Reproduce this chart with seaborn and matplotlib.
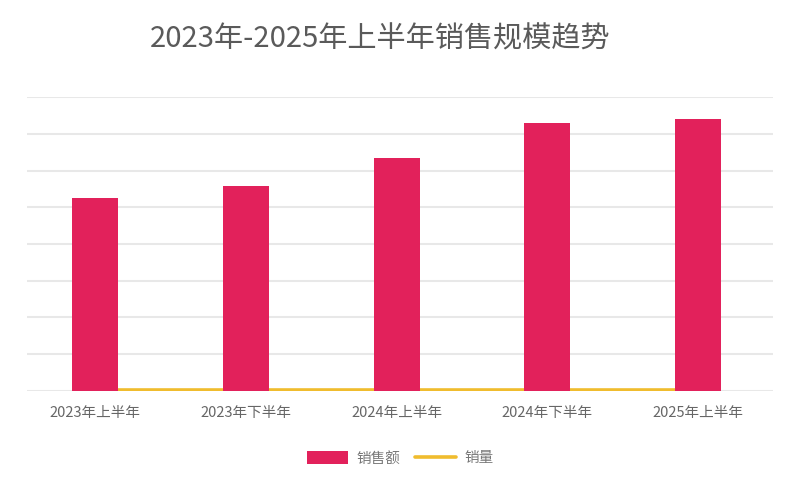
import matplotlib.pyplot as plt
import seaborn as sns
import pandas as pd

# half-year periods and values (gridline step = 100)
periods = ["2023年上半年", "2023年下半年", "2024年上半年", "2024年下半年", "2025年上半年"]
sales_amount = [525, 558, 634, 729, 740]   # 销售额
sales_volume = [3, 3, 3, 3, 3]             # 销量

df = pd.DataFrame({"period": periods, "amount": sales_amount, "volume": sales_volume})

sns.set_theme(style="white")
plt.rcParams["font.family"] = ["Noto Sans CJK SC", "DejaVu Sans"]

bar_color = "#E2215B"
line_color = "#F0BC2E"

fig = plt.figure(figsize=(7.99, 4.88), dpi=100)
ax = fig.add_axes([0.034, 0.199, 0.934, 0.602])

# line sits behind the bars
sns.lineplot(data=df, x="period", y="volume", ax=ax, color=line_color,
             linewidth=2.6, zorder=2, label="销量", sort=False)
sns.barplot(data=df, x="period", y="amount", ax=ax, color=bar_color,
            width=0.305, zorder=3, label="销售额", saturation=1,
            edgecolor=bar_color, linewidth=0)

ax.set_ylim(0, 800)
ax.set_xlim(-0.45, 4.5)
ax.set_yticks(range(0, 801, 100))
ax.set_yticklabels([])
ax.yaxis.grid(True, color="#e8e8e8", linewidth=1.5, zorder=0)
ax.set_axisbelow(True)
ax.tick_params(axis="y", length=0)
ax.tick_params(axis="x", length=0, pad=11, labelsize=10.5, labelcolor="#666666")
ax.set_xlabel("")
ax.set_ylabel("")
sns.despine(ax=ax, left=True, bottom=True, top=True, right=True)

# legend: bars first, then line
handles, labels = ax.get_legend_handles_labels()
order = [labels.index("销售额"), labels.index("销量")]
ax.legend([handles[i] for i in order], [labels[i] for i in order],
          loc="center", bbox_to_anchor=(0.5, -0.23),
          ncol=2, frameon=False, fontsize=10.5, labelcolor="#777777",
          handlelength=2.8, handleheight=0.9, columnspacing=1.0, handletextpad=0.6)

fig.text(380 / 799, 1 - 39 / 488, "2023年-2025年上半年销售规模趋势",
         ha="center", va="center", fontsize=21, color="#5a5a5a", fontweight="medium")

fig.savefig("out.png", dpi=100)
